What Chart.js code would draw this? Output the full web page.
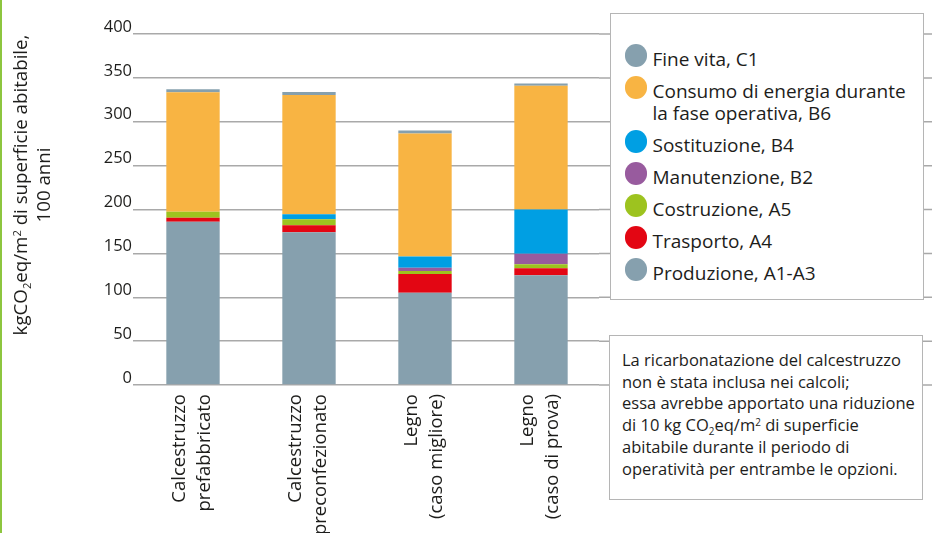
<!DOCTYPE html>
<html>
<head>
<meta charset="utf-8">
<script src="https://cdn.jsdelivr.net/npm/chart.js@4.4.0/dist/chart.umd.min.js"></script>
<style>
  body { margin: 0; background: #fff; font-family: 'Open Sans', sans-serif; color: #1d1d1b; }
  #wrap { position: absolute; left: 0; top: 0; width: 932px; height: 533px; }
  #edge { position: absolute; left: 0; top: 0; width: 2px; height: 533px; background: #8dc63f; }
  sub, sup { font-size: 60%; line-height: 0; vertical-align: baseline; position: relative; }
  sub { top: 0.35em; }
  sup { top: -0.55em; }
  #ytitle {
    position: absolute; left: -139px; top: 162px; width: 340px; height: 46px;
    font-size: 18.7px; line-height: 23px; text-align: center; white-space: nowrap;
    transform: rotate(-90deg); transform-origin: 50% 50%;
  }
  #legend {
    position: absolute; left: 610px; top: 13px; width: 314px; height: 287px;
    box-sizing: border-box; border: 1.5px solid #b5b5b5; background: #fff;
    padding-top: 34px; font-size: 19px; line-height: 22px;
  }
  .item { position: relative; padding-left: 41.5px; width: 262px; margin-bottom: 10px; }
  .dot { position: absolute; left: 13.5px; top: -4px; width: 22.5px; height: 22.5px; border-radius: 50%; }
  #note {
    position: absolute; left: 609px; top: 335px; width: 314px; height: 165px;
    box-sizing: border-box; border: 1.5px solid #b5b5b5; background: #fff;
    padding: 13px 4px 0 12px; font-size: 16.5px; line-height: 21.7px; white-space: nowrap;
  }
</style>
</head>
<body>
<div id="wrap"><canvas id="myChart"></canvas></div>
<div id="ytitle">kgCO<sub>2</sub>eq/m<sup>2</sup> di superficie abitabile,<br>100 anni</div>
<div id="legend"></div>
<div id="note">La ricarbonatazione del calcestruzzo<br>non è stata inclusa nei calcoli;<br>essa avrebbe apportato una riduzione<br>di 10 kg CO<sub>2</sub>eq/m<sup>2</sup> di superficie<br>abitabile durante il periodo di<br>operatività per entrambe le opzioni.</div>
<div id="edge"></div>
<script>
// Categories (two-line labels)
let categories = [
    ['Calcestruzzo', 'prefabbricato'],
    ['Calcestruzzo', 'preconfezionato'],
    ['Legno', '(caso migliore)'],
    ['Legno', '(caso di prova)']
];

// Series values, kgCO2eq/m2 (bottom of the stack first)
let produzione   = [186, 174, 105, 125];
let trasporto    = [4.5, 8, 21.5, 8];
let costruzione  = [7, 7, 3.5, 4.5];
let manutenzione = [0, 0, 3.5, 12];
let sostituzione = [0, 5.5, 13, 50.5];
let consumo      = [136, 136, 140, 141];
let fineVita     = [3.5, 3.5, 3.5, 2.5];

let seriesLabels = ['Produzione, A1-A3', 'Trasporto, A4', 'Costruzione, A5', 'Manutenzione, B2',
                    'Sostituzione, B4', 'Consumo di energia durante la fase operativa, B6', 'Fine vita, C1'];
let seriesColors = ['#86a0ae', '#e30613', '#9dc31f', '#985b9e', '#009fe3', '#f8b443', '#86a0ae'];

// y axis ticks
let yMin = 0;
let yMax = 400;
let yStep = 50;

let gridColor = '#a9a9a9';

Chart.defaults.font.family = "'Open Sans', sans-serif";
Chart.defaults.color = '#1d1d1b';

// grid lines run on behind the boxes to the right edge
const gridExtend = {
    id: 'gridExtend',
    beforeDatasetsDraw(chart) {
        const {ctx, chartArea, scales: {y}} = chart;
        ctx.save();
        ctx.strokeStyle = gridColor;
        ctx.lineWidth = 1.5;
        y.ticks.forEach(t => {
            const py = y.getPixelForValue(t.value);
            ctx.beginPath();
            ctx.moveTo(chartArea.right, py);
            ctx.lineTo(chart.width, py);
            ctx.stroke();
        });
        ctx.restore();
    }
};

let allSeries = [produzione, trasporto, costruzione, manutenzione, sostituzione, consumo, fineVita];

let myChart = document.getElementById('myChart').getContext('2d');

let chart = new Chart(myChart, {
    type: 'bar',
    data: {
        labels: categories,
        datasets: allSeries.map((d, i) => ({
            label: seriesLabels[i],
            data: d,
            backgroundColor: seriesColors[i],
            borderWidth: 0,
            barPercentage: 0.46,
            categoryPercentage: 1
        }))
    },
    options: {
        responsive: true,
        maintainAspectRatio: false,
        animation: false,
        layout: { padding: { left: 0, top: 34, right: 333, bottom: 0 } },
        plugins: {
            legend: { display: false },
            tooltip: { enabled: false }
        },
        scales: {
            x: {
                stacked: true,
                grid: { display: false, drawTicks: false },
                border: { display: false },
                ticks: {
                    autoSkip: false,
                    minRotation: 90,
                    maxRotation: 90,
                    padding: 9,
                    labelOffset: -13,
                    font: { size: 18.5, lineHeight: 1.35 }
                },
                afterFit: (scale) => { scale.height = 148; }
            },
            y: {
                stacked: true,
                min: yMin,
                max: yMax,
                grid: { color: gridColor, lineWidth: 1.5, tickLength: 2 },
                border: { display: false },
                ticks: {
                    stepSize: yStep,
                    padding: 1,
                    labelOffset: -7,
                    font: { size: 16.5 }
                },
                afterFit: (scale) => { scale.width = 135; }
            }
        }
    },
    plugins: [gridExtend]
});

// HTML legend, top of the stack first
let legendBox = document.getElementById('legend');
chart.data.datasets.slice().reverse().forEach(ds => {
    let item = document.createElement('div');
    item.className = 'item';
    let dot = document.createElement('span');
    dot.className = 'dot';
    dot.style.background = ds.backgroundColor;
    item.appendChild(dot);
    item.appendChild(document.createTextNode(ds.label));
    legendBox.appendChild(item);
});
</script>
</body>
</html>
